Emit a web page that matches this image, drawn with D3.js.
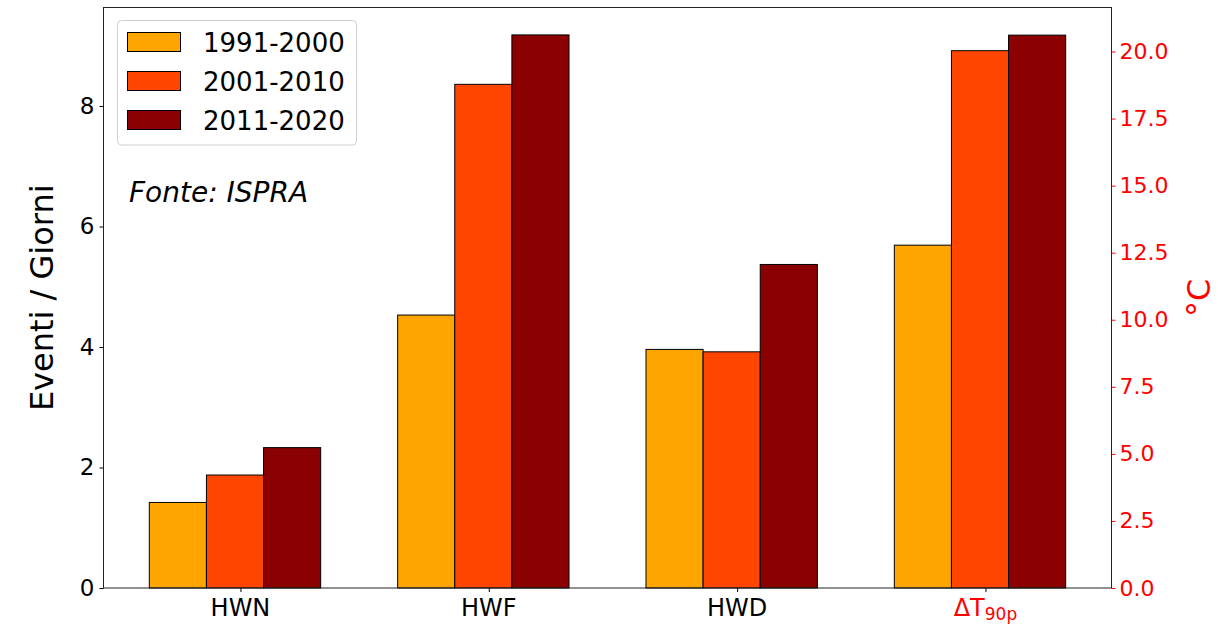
<!DOCTYPE html>
<html>
<head>
<meta charset="utf-8">
<script src="https://cdn.jsdelivr.net/npm/d3@7"></script>
<style>
  html, body { margin: 0; padding: 0; background: #fff; }
  svg { display: block; }
  text { font-family: "DejaVu Sans", sans-serif; }
</style>
</head>
<body>
<svg id="chart" width="1218" height="625"></svg>
<script>
// Heat-wave indices per decade
const categories = ["HWN", "HWF", "HWD", "ΔT90p"];
const periods = ["1991-2000", "2001-2010", "2011-2020"];
const periodColors = ["#FFA500", "#FF4500", "#8B0000"];

// HWN, HWF, HWD (events / days), one array per decade
const hwValues1991 = [1.42, 4.53, 3.96];
const hwValues2001 = [1.875, 8.36, 3.92];
const hwValues2011 = [2.33, 9.18, 5.37];
// ΔT90p (°C), one value per decade
const deltaT = [12.78, 20.03, 20.61];

const leftTicks = [0, 2, 4, 6, 8];
const rightTicks = [0, 2.5, 5, 7.5, 10, 12.5, 15, 17.5, 20];

const svg = d3.select("#chart");
const plot = { left: 103.5, right: 1111.5, top: 7.5, bottom: 588 };

const barWidth = 0.23;
const x = d3.scaleLinear().domain([-0.5295, 3.5295]).range([plot.left, plot.right]);
const yLeft = d3.scaleLinear().domain([0, 9.635]).range([plot.bottom, plot.top]);
const yRight = d3.scaleLinear().domain([0, 21.64]).range([plot.bottom, plot.top]);

// Flatten into bar records; the last category sits on the °C axis
const hwByPeriod = [hwValues1991, hwValues2001, hwValues2011];
const bars = [];
periods.forEach((p, j) => {
  categories.forEach((c, i) => {
    const isTemp = i === 3;
    bars.push({
      cat: i, period: j,
      value: isTemp ? deltaT[j] : hwByPeriod[j][i],
      scale: isTemp ? yRight : yLeft
    });
  });
});

svg.append("g").selectAll("rect").data(bars).join("rect")
  .attr("x", d => x(d.cat + (d.period - 1) * barWidth - barWidth / 2))
  .attr("width", d => x(barWidth) - x(0))
  .attr("y", d => d.scale(d.value))
  .attr("height", d => plot.bottom - d.scale(d.value))
  .attr("fill", d => periodColors[d.period])
  .attr("stroke", "#000")
  .attr("stroke-width", 1);

// Left axis
const gl = svg.append("g").attr("transform", `translate(${plot.left},0)`)
  .call(d3.axisLeft(yLeft).tickValues(leftTicks).tickFormat(d3.format("d")).tickSize(4).tickPadding(5));
gl.select(".domain").remove();
gl.selectAll("text").attr("font-size", 23).attr("fill", "#000").attr("font-family", "DejaVu Sans");
gl.selectAll("line").attr("stroke", "#000");

// Right axis (°C)
const gr = svg.append("g").attr("transform", `translate(${plot.right},0)`)
  .call(d3.axisRight(yRight).tickValues(rightTicks).tickFormat(d3.format(".1f")).tickSize(4).tickPadding(4));
gr.select(".domain").remove();
gr.selectAll("text").attr("font-size", 22).attr("fill", "#FF0000").attr("font-family", "DejaVu Sans");
gr.selectAll("line").attr("stroke", "#FF0000");

// Bottom axis with category labels
const tickOffset = 0.022;
const gb = svg.append("g").attr("transform", `translate(0,${plot.bottom})`)
  .call(d3.axisBottom(x).tickValues(categories.map((c, i) => i + tickOffset)).tickFormat("").tickSize(4));
gb.select(".domain").remove();
gb.selectAll("line").attr("stroke", "#000");

categories.forEach((c, i) => {
  const t = svg.append("text")
    .attr("x", x(i + tickOffset))
    .attr("y", plot.bottom + 28)
    .attr("text-anchor", "middle")
    .attr("font-size", 24);
  if (c.startsWith("ΔT")) {
    t.attr("fill", "#FF0000");
    t.append("tspan").text("ΔT");
    t.append("tspan").attr("font-size", 17).attr("dy", 4).text(c.slice(2));
  } else {
    t.attr("fill", "#000").text(c);
  }
});

// Frame
svg.append("rect")
  .attr("x", plot.left).attr("y", plot.top)
  .attr("width", plot.right - plot.left).attr("height", plot.bottom - plot.top)
  .attr("fill", "none").attr("stroke", "#222").attr("stroke-width", 1);

// Axis titles
svg.append("text")
  .attr("transform", `translate(53,${(plot.top + plot.bottom) / 2}) rotate(-90)`)
  .attr("text-anchor", "middle")
  .attr("font-size", 32)
  .attr("fill", "#000")
  .text("Eventi / Giorni");

svg.append("text")
  .attr("transform", `translate(1210,${(plot.top + plot.bottom) / 2}) rotate(-90)`)
  .attr("text-anchor", "middle")
  .attr("font-size", 32)
  .attr("fill", "#FF0000")
  .text("°C");

// Source note
svg.append("text")
  .attr("x", 129).attr("y", 202)
  .attr("font-family", "Liberation Sans, Arial, sans-serif")
  .attr("font-style", "italic")
  .attr("font-size", 28)
  .attr("fill", "#000")
  .text("Fonte: ISPRA");

// Legend
const legend = svg.append("g");
legend.append("rect")
  .attr("x", 117.5).attr("y", 20.5).attr("width", 239).attr("height", 124.5)
  .attr("rx", 4).attr("ry", 4)
  .attr("fill", "#fff").attr("fill-opacity", 0.8)
  .attr("stroke", "#d0d0d0").attr("stroke-width", 1);
periods.forEach((p, j) => {
  const cy = 42 + j * 39;
  legend.append("rect")
    .attr("x", 127.5).attr("y", cy - 9.5).attr("width", 53).attr("height", 19)
    .attr("fill", periodColors[j]).attr("stroke", "#000").attr("stroke-width", 1);
  legend.append("text")
    .attr("x", 203).attr("y", cy + 9.5)
    .attr("font-size", 26).attr("fill", "#000")
    .text(p);
});
</script>
</body>
</html>
